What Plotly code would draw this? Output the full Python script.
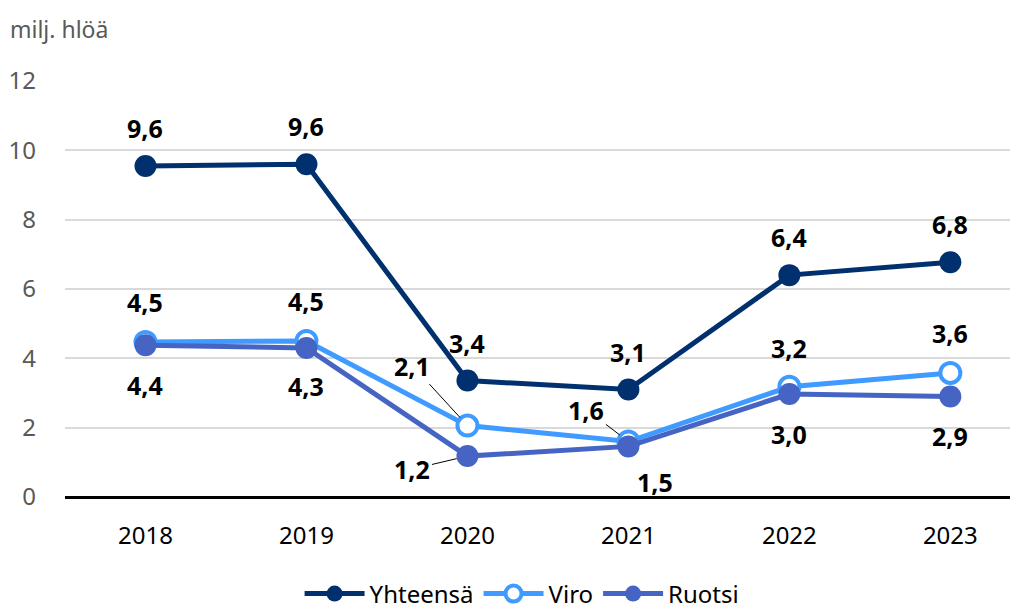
import plotly.graph_objects as go

years = ["2018", "2019", "2020", "2021", "2022", "2023"]
yhteensa = [9.55, 9.6, 3.36, 3.1, 6.4, 6.77]
viro = [4.47, 4.5, 2.06, 1.6, 3.18, 3.58]
ruotsi = [4.38, 4.3, 1.18, 1.46, 2.97, 2.9]
y_ticks = [0, 2, 4, 6, 8, 10, 12]

C_Y = "#00306e"
C_V = "#3f9bff"
C_R = "#4564c4"
FONT = "Noto Sans"

fig = go.Figure()
fig.add_trace(go.Scatter(x=years, y=yhteensa, name="Yhteensä", mode="lines+markers",
                         line=dict(color=C_Y, width=5),
                         marker=dict(size=22, color=C_Y)))
fig.add_trace(go.Scatter(x=years, y=viro, name="Viro", mode="lines+markers",
                         line=dict(color=C_V, width=5),
                         marker=dict(size=20, color="white", line=dict(color=C_V, width=4))))
fig.add_trace(go.Scatter(x=years, y=ruotsi, name="Ruotsi", mode="lines+markers",
                         line=dict(color=C_R, width=5),
                         marker=dict(size=22, color=C_R)))

def fmt(v):
    return "<b>" + f"{v:.1f}".replace(".", ",") + "</b>"

lab_font = dict(family=FONT, size=25, color="black")

# label placement (pixel shifts) per series
shift = {
    "Y": [(0, 38)] * 6,
    "V": [(0, 40), (0, 40), None, None, (0, 39), (0, 40)],
    "R": [(0, -40), (0, -38), None, (27, -36), (0, -40), (0, -40)],
}
leaders = {("V", 2): (-55, -60), ("V", 3): (-42, -32), ("R", 2): (-55, 13)}

for key, vals in (("Y", yhteensa), ("V", viro), ("R", ruotsi)):
    for i, v in enumerate(vals):
        if (key, i) in leaders:
            ax, ay = leaders[(key, i)]
            fig.add_annotation(x=i, y=v, xref="x", yref="y", text=fmt(v), showarrow=True,
                               ax=ax, ay=ay, arrowhead=0, arrowwidth=1,
                               arrowcolor="black", standoff=11, font=lab_font)
        else:
            dx, dy = shift[key][i]
            fig.add_annotation(x=i, y=v, xref="x", yref="y", text=fmt(v), showarrow=False,
                               xshift=dx, yshift=dy, font=lab_font)

fig.update_layout(
    width=1018, height=610,
    margin=dict(l=57, r=0, t=73, b=121),
    paper_bgcolor="white", plot_bgcolor="white",
    font=dict(family=FONT, size=23, color="black"),
    title=dict(text="milj. hlöä", x=0.0, xref="container", xanchor="left",
               y=1 - 22 / 610, yref="container", yanchor="middle",
               font=dict(family=FONT, size=23, color="#595959"), pad=dict(l=2)),
    xaxis=dict(type="category", range=[-0.5, 5.47], showgrid=False, zeroline=False,
               showline=False, ticks="", tickfont=dict(size=24, color="black"),
               ticklabelstandoff=22),
    yaxis=dict(range=[0, 12], tickvals=y_ticks, ticktext=[str(t) for t in y_ticks],
               showgrid=True, gridcolor="#d9d9d9", gridwidth=2,
               zeroline=True, zerolinecolor="black", zerolinewidth=3,
               tickfont=dict(size=24, color="#595959"), ticklabelstandoff=28),
    showlegend=True,
    legend=dict(orientation="h", xref="container", yref="container",
                x=0.505, xanchor="center", y=24 / 610, yanchor="middle",
                font=dict(size=24, color="black"), itemwidth=60, tracegroupgap=0),
)

fig.write_html("out.html")
